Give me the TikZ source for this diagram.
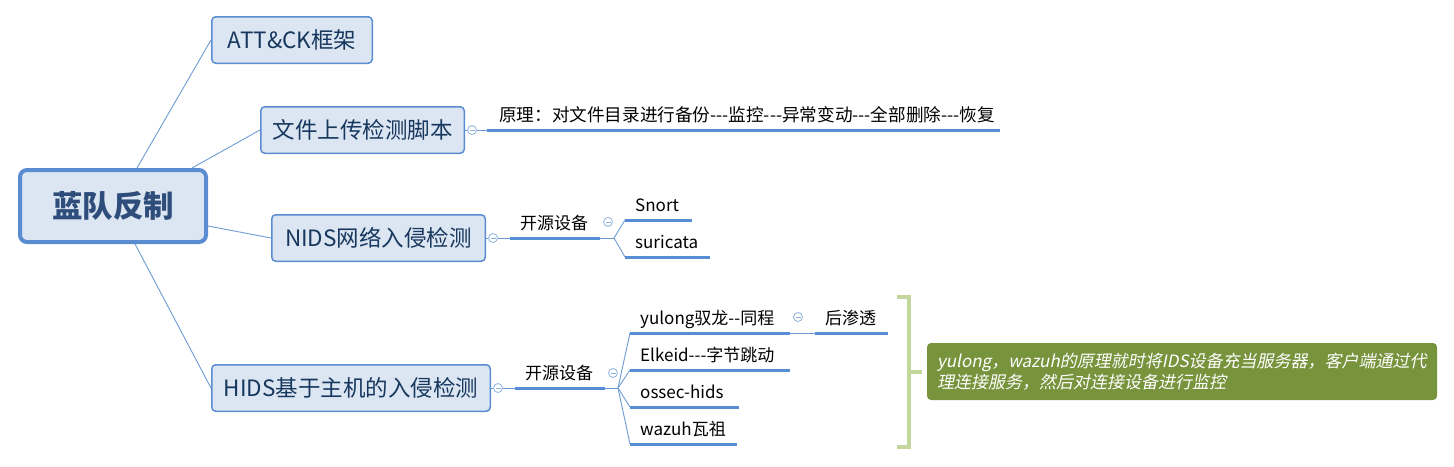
\documentclass[tikz,border=0pt]{standalone}
\usepackage{fontspec}
\setmainfont{Noto Sans CJK SC}[Ligatures=TeXOff]
\newfontfamily\slantfont{Noto Sans CJK SC}[FakeSlant=0.2,Ligatures=TeXOff]
\definecolor{boxfill}{HTML}{DCE6F2}
\definecolor{boxline}{HTML}{5A8CD2}
\definecolor{boxtext}{HTML}{17375E}
\definecolor{roottext}{HTML}{2E4D7B}
\definecolor{linecol}{HTML}{6C9BD6}
\definecolor{ulcol}{HTML}{558ED5}
\definecolor{circcol}{HTML}{8FB3E0}
\definecolor{brackcol}{HTML}{C3D69B}
\definecolor{notefill}{HTML}{77933C}
\begin{document}
\begin{tikzpicture}[x=1pt,y=-1pt,
  box/.style={draw=boxline, fill=boxfill, rounded corners=4pt, line width=1.5pt, inner sep=0pt, text=boxtext, font=\fontsize{22.5}{25}\selectfont},
  rootbox/.style={box, line width=4pt, rounded corners=7pt, text=roottext, font=\fontsize{30.5}{33}\selectfont\bfseries},
  conn/.style={draw=linecol, line width=0.9pt},
  uline/.style={draw=ulcol, line width=3pt},
  lbl/.style={anchor=base west, inner sep=0pt, text=black, font=\fontsize{17}{20}\selectfont},
  circ/.style={circle, draw=circcol, fill=white, line width=0.8pt, minimum size=9pt, inner sep=0pt,
    path picture={\draw[circcol, line width=0.8pt] ([xshift=-2.5pt]path picture bounding box.center) -- ([xshift=2.5pt]path picture bounding box.center);}},
  bracket/.style={draw=brackcol, line width=4.5pt},
  note/.style={fill=notefill, rounded corners=4pt, inner xsep=10pt, inner ysep=0pt, text=white, align=left,
    minimum width=510pt, minimum height=57pt, text width=490pt, font=\fontsize{17}{21}\selectfont\slantfont}
]
\useasboundingbox (0,0) rectangle (1454,466);

% main boxes
\node[rootbox, minimum width=186pt, minimum height=72pt] (root) at (113,206) {蓝队反制};
\node[box, minimum width=160.5pt, minimum height=46.5pt] (att) at (292,40) {ATT\&CK框架};
\node[box, minimum width=203.5pt, minimum height=46.5pt] (file) at (362.5,130) {文件上传检测脚本};
\node[box, minimum width=213.5pt, minimum height=46.5pt] (nids) at (378.5,238) {NIDS网络入侵检测};
\node[box, minimum width=278.5pt, minimum height=46.5pt] (hids) at (351,388) {HIDS基于主机的入侵检测};

% root connectors
\draw[conn] ([xshift=24pt]root.north) -- (att.west);
\draw[conn] ([xshift=79pt]root.north) -- (file.west);
\draw[conn] ([yshift=-20pt]root.east) -- (nids.west);
\draw[conn] ([xshift=22pt]root.south) -- (hids.west);

% file branch
\node[circ] (c1) at (472,130) {};
\coordinate (u1s) at (487,130);
\coordinate (u1e) at (1000,130);
\draw[conn] (file.east) -- (c1.west);
\draw[conn] (c1.east) -- (u1s);
\draw[uline] (u1s) -- (u1e);
\node[lbl, font=\fontsize{17.6}{20}\selectfont] (yuanli) at (499,121) {原理：对文件目录进行备份---监控---异常变动---全部删除---恢复};

% NIDS branch
\node[circ] (c2) at (493,238) {};
\coordinate (u2s) at (510,238);
\coordinate (u2e) at (600,238);
\coordinate (f2) at (614,238);
\draw[conn] (nids.east) -- (c2.west);
\draw[conn] (c2.east) -- (u2s);
\draw[uline] (u2s) -- (u2e);
\draw[conn] (u2e) -- (f2);
\node[lbl] (kaiyuan1) at (520,229) {开源设备};
\node[circ] (c3) at (608,222) {};
\coordinate (snS) at (625,220);
\coordinate (snE) at (692,220);
\coordinate (suS) at (625,257);
\coordinate (suE) at (710,257);
\draw[conn] (f2) -- (snS);
\draw[conn] (f2) -- (suS);
\draw[uline] (snS) -- (snE);
\draw[uline] (suS) -- (suE);
\node[lbl] (snort) at (635,211) {Snort};
\node[lbl] (suricata) at (635,248) {suricata};

% HIDS branch
\node[circ] (c4) at (498,388) {};
\coordinate (u4s) at (515,388);
\coordinate (u4e) at (605,388);
\coordinate (f4) at (618,388);
\draw[conn] (hids.east) -- (c4.west);
\draw[conn] (c4.east) -- (u4s);
\draw[uline] (u4s) -- (u4e);
\draw[conn] (u4e) -- (f4);
\node[lbl] (kaiyuan2) at (525,379) {开源设备};
\node[circ] (c5) at (613,373) {};

\coordinate (yS) at (630,333);
\coordinate (yE) at (790,333);
\coordinate (eS) at (630,370);
\coordinate (eE) at (790,370);
\coordinate (oS) at (630,407);
\coordinate (oE) at (739,407);
\coordinate (wS) at (630,444);
\coordinate (wE) at (737,444);
\draw[conn] (f4) -- (yS);
\draw[conn] (f4) -- (eS);
\draw[conn] (f4) -- (oS);
\draw[conn] (f4) -- (wS);
\draw[uline] (yS) -- (yE);
\draw[uline] (eS) -- (eE);
\draw[uline] (oS) -- (oE);
\draw[uline] (wS) -- (wE);
\node[lbl] (yulong) at (640,324) {yulong驭龙--同程};
\node[lbl] (elkeid) at (640,361) {Elkeid---字节跳动};
\node[lbl] (ossec) at (640,398) {ossec-hids};
\node[lbl] (wazuh) at (640,435) {wazuh瓦祖};

\node[circ] (c6) at (798,317) {};
\coordinate (hS) at (815,333);
\coordinate (hE) at (888,333);
\draw[conn] (yE) -- (hS);
\draw[uline] (hS) -- (hE);
\node[lbl] (houshentou) at (825,324) {后渗透};

% bracket and note
\coordinate (bt) at (909,297);
\coordinate (bb) at (909,447);
\coordinate (bm) at (909,372);
\coordinate (bmr) at (922,372);
\draw[bracket] (897,297) -- (bt) -- (bb) -- (897,447);
\draw[bracket] (bm) -- (bmr);
\node[note] (notebox) at (1182,371.5) {yulong，wazuh的原理就时将IDS设备充当服务器，客户端通过代\\理连接服务，然后对连接设备进行监控};
\end{tikzpicture}
\end{document}
